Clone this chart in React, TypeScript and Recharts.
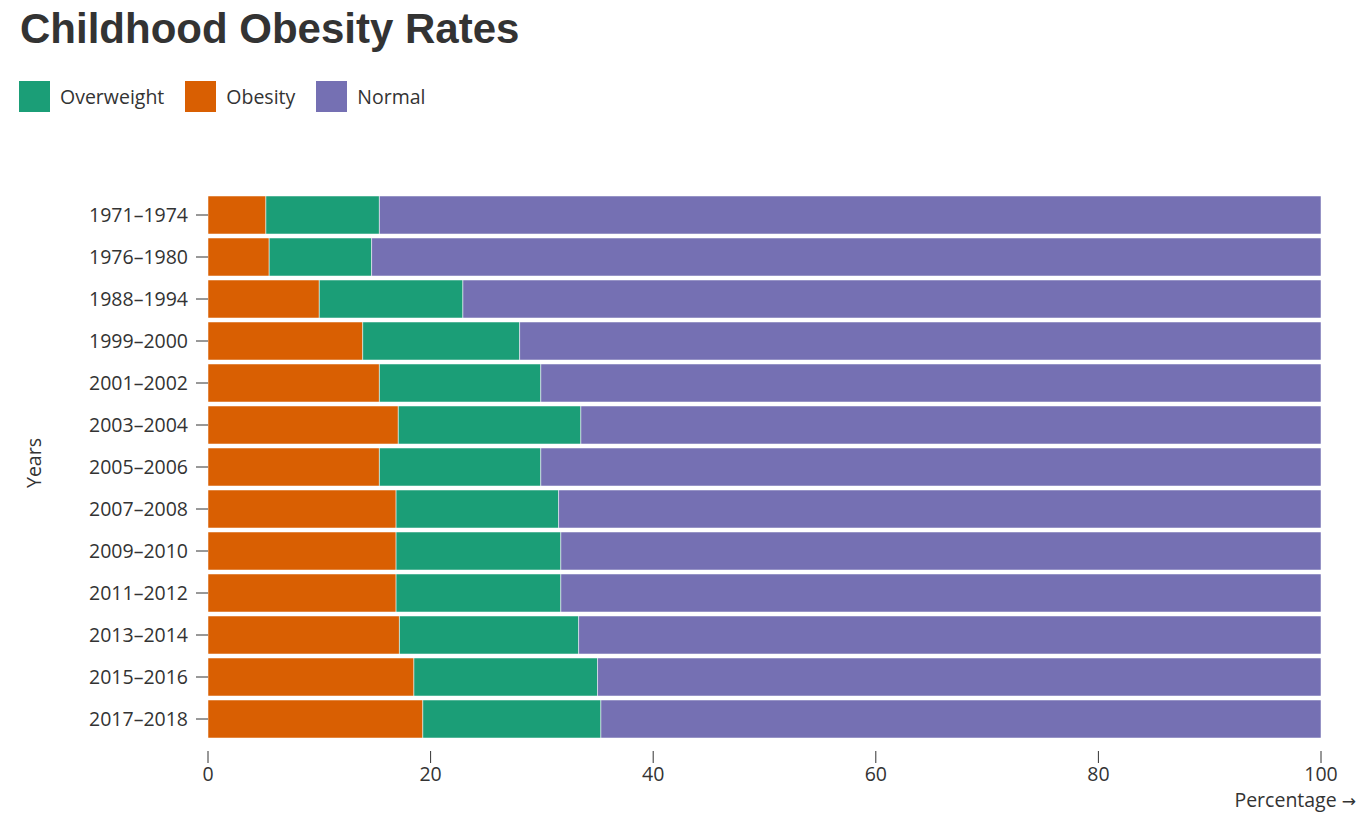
import { Bar, BarChart, XAxis, YAxis } from "recharts";

// survey periods, top to bottom
const years = [
  "1971–1974",
  "1976–1980",
  "1988–1994",
  "1999–2000",
  "2001–2002",
  "2003–2004",
  "2005–2006",
  "2007–2008",
  "2009–2010",
  "2011–2012",
  "2013–2014",
  "2015–2016",
  "2017–2018",
];

// percentages
const obesity = [5.2, 5.5, 10.0, 13.9, 15.4, 17.1, 15.4, 16.9, 16.9, 16.9, 17.2, 18.5, 19.3];
const overweight = [10.2, 9.2, 12.9, 14.1, 14.5, 16.4, 14.5, 14.6, 14.8, 14.8, 16.1, 16.5, 16.0];
const normal = [84.6, 85.3, 77.1, 72.0, 70.1, 66.5, 70.1, 68.5, 68.3, 68.3, 66.7, 65.0, 64.7];

const xTicks = [0, 20, 40, 60, 80, 100];

const COLORS = {
  overweight: "#1b9e77",
  obesity: "#d95f02",
  normal: "#7570b3",
};

const legendItems = [
  { key: "overweight", label: "Overweight" },
  { key: "obesity", label: "Obesity" },
  { key: "normal", label: "Normal" },
] as const;

const chartData = years.map((y, i) => ({
  years: y,
  obesity: obesity[i],
  overweight: overweight[i],
  normal: normal[i],
}));

const FONT = "'Open Sans', sans-serif";
const TEXT = "#333";
const FS = 19.5;

export default function App() {
  return (
    <div
      style={{
        position: "absolute",
        left: 0,
        top: 0,
        width: 1371,
        height: 822,
        background: "#fff",
        fontFamily: FONT,
      }}
    >
      <div
        style={{
          position: "absolute",
          left: 20,
          top: 8,
          fontFamily: "'Liberation Sans', Arial, sans-serif",
          fontWeight: 700,
          fontSize: 42,
          lineHeight: "42px",
          color: TEXT,
          whiteSpace: "nowrap",
        }}
      >
        Childhood Obesity Rates
      </div>

      <div
        style={{
          position: "absolute",
          left: 19,
          top: 81,
          display: "flex",
          alignItems: "center",
          height: 31,
        }}
      >
        {legendItems.map((item) => (
          <div key={item.key} style={{ display: "flex", alignItems: "center", marginRight: 21 }}>
            <div style={{ width: 31, height: 31, background: COLORS[item.key], marginRight: 10 }} />
            <span style={{ fontSize: FS, color: TEXT }}>{item.label}</span>
          </div>
        ))}
      </div>

      <div style={{ position: "absolute", left: 0, top: 0 }}>
        <BarChart
          width={1371}
          height={822}
          data={chartData}
          layout="vertical"
          margin={{ top: 194, right: 50, left: 88, bottom: 31 }}
          barCategoryGap={2}
        >
          <XAxis
            type="number"
            domain={[0, 100]}
            ticks={xTicks}
            axisLine={false}
            tickLine={{ stroke: TEXT }}
            tickSize={12}
            tickMargin={4}
            height={40}
            tick={{ fill: TEXT, fontSize: FS, fontFamily: FONT }}
            label={(props: any) => {
              const vb = props.viewBox;
              return (
                <text
                  x={vb.x + vb.width + 35}
                  y={vb.y + 56}
                  textAnchor="end"
                  fill={TEXT}
                  fontSize={FS}
                  fontFamily={FONT}
                >
                  Percentage{" "}
                  <tspan fontFamily="'DejaVu Sans', sans-serif" fontSize={17}>
                    →
                  </tspan>
                </text>
              );
            }}
          />
          <YAxis
            type="category"
            dataKey="years"
            width={120}
            padding={{ top: 0, bottom: 11 }}
            axisLine={false}
            tickLine={{ stroke: TEXT }}
            tickSize={12}
            tickMargin={8}
            tick={{ fill: TEXT, fontSize: FS, fontFamily: FONT }}
            label={() => (
              <text
                x={33}
                y={463}
                textAnchor="middle"
                dominantBaseline="central"
                transform="rotate(-90 33 463)"
                fill={TEXT}
                fontSize={FS}
                fontFamily={FONT}
              >
                Years
              </text>
            )}
          />
          <Bar
            dataKey="obesity"
            stackId="a"
            fill={COLORS.obesity}
            stroke="#fff"
            strokeOpacity={0.5}
            isAnimationActive={false}
          />
          <Bar
            dataKey="overweight"
            stackId="a"
            fill={COLORS.overweight}
            stroke="#fff"
            strokeOpacity={0.5}
            isAnimationActive={false}
          />
          <Bar
            dataKey="normal"
            stackId="a"
            fill={COLORS.normal}
            stroke="#fff"
            strokeOpacity={0.5}
            isAnimationActive={false}
          />
        </BarChart>
      </div>
    </div>
  );
}
